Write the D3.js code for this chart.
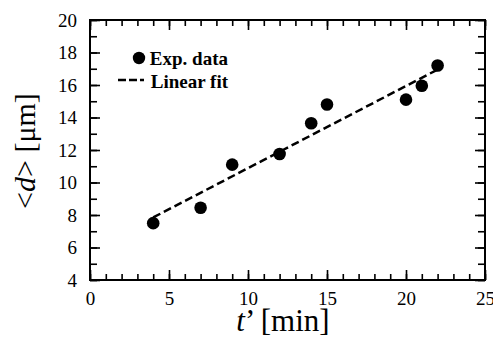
<!DOCTYPE html>
<html>
<head>
<meta charset="utf-8">
<script src="https://cdn.jsdelivr.net/npm/d3@7/dist/d3.min.js"></script>
<style>
body { margin: 0; background: #fff; }
</style>
</head>
<body>
<svg width="493" height="337"></svg>
<script>
// measured points: time t' [min] vs mean diameter <d> [um]
var tMin = [4, 7, 9, 12, 14, 15, 20, 21, 22];
var dMean = [7.5, 8.45, 11.1, 11.75, 13.65, 14.8, 15.1, 15.95, 17.2];

// linear fit end points
var fitT = [4, 22];
var fitD = [7.85, 16.95];

var xMajor = [0, 5, 10, 15, 20, 25];
var yMajor = [4, 6, 8, 10, 12, 14, 16, 18, 20];
var xMinor = d3.range(0, 26, 1);
var yMinor = d3.range(4, 21, 1);

var serif = "'Liberation Serif', 'DejaVu Serif', serif";

var svg = d3.select("svg"),
    margin = {top: 20, right: 8, bottom: 57, left: 90},
    width = +svg.attr("width") - margin.left - margin.right,
    height = +svg.attr("height") - margin.top - margin.bottom,
    g = svg.append("g").attr("transform", "translate(" + margin.left + "," + margin.top + ")");

var x = d3.scaleLinear().domain([0, 25]).range([0, width]);
var y = d3.scaleLinear().domain([4, 20]).range([height, 0]);

function styleAxis(sel) {
  sel.attr("font-family", null);
  sel.select(".domain").remove();
  sel.selectAll("line").attr("stroke", "#000").attr("stroke-width", 1.6);
  sel.selectAll("text").style("font-family", serif).style("font-size", "19px").attr("fill", "#000");
}

// minor ticks (all four sides, inward)
g.append("g").attr("transform", "translate(0," + height + ")")
  .call(d3.axisBottom(x).tickValues(xMinor).tickSize(-6).tickFormat(""))
  .call(styleAxis);
g.append("g")
  .call(d3.axisTop(x).tickValues(xMinor).tickSize(-6).tickFormat(""))
  .call(styleAxis);
g.append("g")
  .call(d3.axisLeft(y).tickValues(yMinor).tickSize(-7).tickFormat(""))
  .call(styleAxis);
g.append("g").attr("transform", "translate(" + width + ",0)")
  .call(d3.axisRight(y).tickValues(yMinor).tickSize(-7).tickFormat(""))
  .call(styleAxis);

// major ticks with labels
g.append("g").attr("transform", "translate(0," + height + ")")
  .call(d3.axisBottom(x).tickValues(xMajor).tickSize(-10).tickPadding(12))
  .call(styleAxis);
g.append("g")
  .call(d3.axisTop(x).tickValues(xMajor).tickSize(-10).tickFormat(""))
  .call(styleAxis);
g.append("g")
  .call(d3.axisLeft(y).tickValues(yMajor).tickSize(-10).tickPadding(13))
  .call(styleAxis);
g.append("g").attr("transform", "translate(" + width + ",0)")
  .call(d3.axisRight(y).tickValues(yMajor).tickSize(-10).tickFormat(""))
  .call(styleAxis);

// frame
g.append("rect")
  .attr("width", width).attr("height", height)
  .attr("fill", "none").attr("stroke", "#000").attr("stroke-width", 2);

// fit line
var line = d3.line()
  .x(function(d, i) { return x(fitT[i]); })
  .y(function(d) { return y(d); });

g.append("path")
  .attr("d", line(fitD))
  .attr("fill", "none")
  .attr("stroke", "#000")
  .attr("stroke-width", 2.5)
  .attr("stroke-dasharray", "8,4");

// points
g.selectAll(".dot")
  .data(dMean)
  .enter().append("circle")
    .attr("class", "dot")
    .attr("cx", function(d, i) { return x(tMin[i]); })
    .attr("cy", function(d) { return y(d); })
    .attr("r", 6.3)
    .attr("fill", "#000");

// legend (right aligned labels)
var leg = svg.append("g").style("font-family", serif);
leg.append("circle").attr("cx", 139).attr("cy", 58).attr("r", 6.2).attr("fill", "#000");
leg.append("text").attr("x", 228).attr("y", 65).attr("text-anchor", "end")
  .style("font-size", "19px").style("font-weight", "bold").text("Exp. data");
leg.append("line").attr("x1", 118).attr("x2", 144).attr("y1", 80).attr("y2", 80)
  .attr("stroke", "#000").attr("stroke-width", 2.5).attr("stroke-dasharray", "8,3");
leg.append("text").attr("x", 228).attr("y", 88).attr("text-anchor", "end")
  .style("font-size", "19px").style("font-weight", "bold").text("Linear fit");

// axis titles
var xt = svg.append("text")
  .attr("x", 283).attr("y", 331)
  .attr("text-anchor", "middle")
  .style("font-family", serif)
  .style("font-size", "31px");
xt.append("tspan").style("font-style", "italic").text("t");
xt.append("tspan").text("\u2019 [min]");

var yt = svg.append("text")
  .attr("transform", "translate(35,151) rotate(-90)")
  .attr("text-anchor", "middle")
  .style("font-family", serif)
  .style("font-size", "30px");
yt.append("tspan").text("<");
yt.append("tspan").style("font-style", "italic").text("d");
yt.append("tspan").text("> [\u03bcm]");
</script>
</body>
</html>
